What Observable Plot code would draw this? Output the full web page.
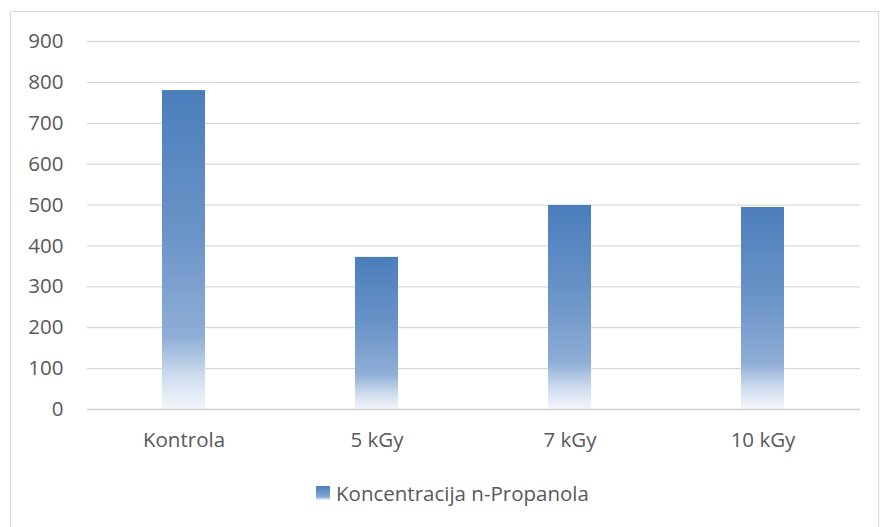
<!DOCTYPE html>
<html>
<head>
<meta charset="utf-8">
<script src="https://cdn.jsdelivr.net/npm/d3@7"></script>
<script src="https://cdn.jsdelivr.net/npm/@observablehq/plot@0.6"></script>
<style>
  body { margin: 0; background: #fff; font-family: "Open Sans", sans-serif; }
  #frame { position: absolute; left: 10px; top: 11px; width: 869px; height: 520px; border: 1px solid #d9d9d9; box-sizing: border-box; }
  #chart { position: absolute; left: 0; top: 0; }
  #legend { position: absolute; left: 316px; top: 479px; display: flex; align-items: center; color: #595959; font-size: 20.5px; }
  #legend .sw { width: 14px; height: 14px; margin-right: 6px; background: linear-gradient(#4a7ebb 0%, #86a8d3 77%, #eef3fa 100%); }
</style>
</head>
<body>
<div id="frame"></div>
<div id="chart"></div>
<div id="legend"><span class="sw"></span><span>Koncentracija n-Propanola</span></div>
<script>
const categories = ["Kontrola", "5 kGy", "7 kGy", "10 kGy"];
const values = [780, 372, 499, 494];
const yTicks = [0, 100, 200, 300, 400, 500, 600, 700, 800, 900];

const data = categories.map((c, i) => ({category: c, value: values[i]}));

const plot = Plot.plot({
  width: 881,
  height: 465,
  marginTop: 41,
  marginBottom: 56,
  marginLeft: 87,
  marginRight: 21,
  style: {fontFamily: "Open Sans, sans-serif", fontSize: "20.5px", color: "#595959", background: "transparent"},
  x: {domain: categories, paddingInner: 0.777, paddingOuter: 0.3885, align: 0.5, label: null},
  y: {domain: [0, 900], label: null},
  marks: [
    Plot.ruleY(yTicks.filter(d => d > 0), {stroke: "#d9d9d9", strokeWidth: 1.3, strokeOpacity: 1}),
    Plot.barY(data, {x: "category", y: "value", fill: "url(#barGrad)"}),
    Plot.ruleY([0], {stroke: "#d0d0d0", strokeWidth: 1.5}),
    Plot.axisY({ticks: yTicks, tickSize: 0, tickPadding: 24, label: null, fill: "#595959"}),
    Plot.axisX({tickSize: 0, tickPadding: 23, label: null, fill: "#595959"})
  ]
});

const svg = d3.select(plot);
const defs = svg.insert("defs", ":first-child");
const g = defs.append("linearGradient").attr("id", "barGrad").attr("x1", 0).attr("y1", 0).attr("x2", 0).attr("y2", 1);
g.append("stop").attr("offset", "0%").attr("stop-color", "#4a7ebb");
g.append("stop").attr("offset", "45%").attr("stop-color", "#6b94c8");
g.append("stop").attr("offset", "77%").attr("stop-color", "#8eadd6");
g.append("stop").attr("offset", "90%").attr("stop-color", "#d0ddee");
g.append("stop").attr("offset", "100%").attr("stop-color", "#f3f6fb");

document.getElementById("chart").appendChild(plot);
</script>
</body>
</html>
